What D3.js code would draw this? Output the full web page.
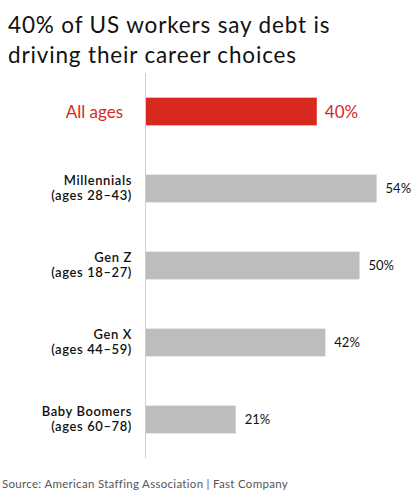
<!DOCTYPE html>
<html>
<head>
<meta charset="utf-8">
<script src="https://cdn.jsdelivr.net/npm/d3@7"></script>
<style>
  body { margin: 0; background: #fff; }
  svg { display: block; font-family: "Lato", "Noto Sans", sans-serif; }
</style>
</head>
<body>
<div id="chart"></div>
<script>
// Chart data
const groups = ["All ages", "Millennials", "Gen Z", "Gen X", "Baby Boomers"];
const ageRanges = ["", "(ages 28–43)", "(ages 18–27)", "(ages 44–59)", "(ages 60–78)"];
const shares = [40, 54, 50, 42, 21];
const titleLines = ["40% of US workers say debt is", "driving their career choices"];
const sourceText = "Source: American Staffing Association | Fast Company";

(function() {
    const W = 419, H = 502;
    const margin = {top: 73, left: 146, bottom: 44};

    const svg = d3.select("#chart")
        .append("svg")
        .attr("width", W)
        .attr("height", H);

    // Title
    svg.append("g").selectAll("text")
        .data(titleLines)
        .enter()
        .append("text")
        .attr("x", 8)
        .attr("y", (d, i) => 33 + i * 30)
        .attr("font-size", 22.5)
        .attr("letter-spacing", 0.85)
        .attr("fill", "#111")
        .text(d => d);

    // Scales
    const x = d3.scaleLinear()
        .domain([0, 100])
        .range([margin.left, margin.left + 427]);

    const y = d3.scaleBand()
        .domain(groups)
        .range([margin.top, H - margin.bottom])
        .paddingInner(0.64)
        .paddingOuter(0.32);

    // Vertical baseline
    svg.append("line")
        .attr("x1", x(0) - 0.5)
        .attr("x2", x(0) - 0.5)
        .attr("y1", margin.top)
        .attr("y2", H - margin.bottom)
        .attr("stroke", "#cfcfcf")
        .attr("stroke-width", 1);

    const rows = groups.map((g, i) => ({ group: g, range: ageRanges[i], value: shares[i], hi: i === 0 }));

    // Bars
    svg.selectAll(".bar")
        .data(rows)
        .enter()
        .append("rect")
        .attr("class", "bar")
        .attr("x", x(0))
        .attr("y", d => y(d.group))
        .attr("width", d => x(d.value) - x(0))
        .attr("height", y.bandwidth())
        .attr("fill", d => d.hi ? "#d9291e" : "#bdbdbd");

    // Value labels
    svg.selectAll(".val")
        .data(rows)
        .enter()
        .append("text")
        .attr("class", "val")
        .attr("x", d => x(d.value) + (d.hi ? 8 : 9))
        .attr("y", d => y(d.group) + y.bandwidth() / 2)
        .attr("dy", "0.36em")
        .attr("font-size", d => d.hi ? 17 : 13)
        .attr("fill", d => d.hi ? "#d9291e" : "#111")
        .text(d => d.value + "%");

    // Category labels
    const lab = svg.selectAll(".cat")
        .data(rows)
        .enter()
        .append("text")
        .attr("class", "cat")
        .attr("text-anchor", "end")
        .attr("fill", d => d.hi ? "#d9291e" : "#111");

    lab.filter(d => d.hi)
        .attr("x", 123)
        .attr("y", d => y(d.group) + y.bandwidth() / 2)
        .attr("dy", "0.36em")
        .attr("font-size", 17)
        .text(d => d.group);

    lab.filter(d => !d.hi)
        .attr("font-size", 13)
        .attr("font-weight", 600)
        .attr("letter-spacing", 0.6)
        .each(function(d) {
            const t = d3.select(this);
            const cy = y(d.group) + y.bandwidth() / 2;
            t.append("tspan").attr("x", 132).attr("y", cy - 4).text(d.group);
            t.append("tspan").attr("x", 132).attr("y", cy + 11.5).text(d.range);
        });

    // Source
    svg.append("text")
        .attr("x", 2)
        .attr("y", 488)
        .attr("font-size", 11.5)
        .attr("letter-spacing", 0.3)
        .attr("fill", "#555")
        .text(sourceText);
})();
</script>
</body>
</html>
